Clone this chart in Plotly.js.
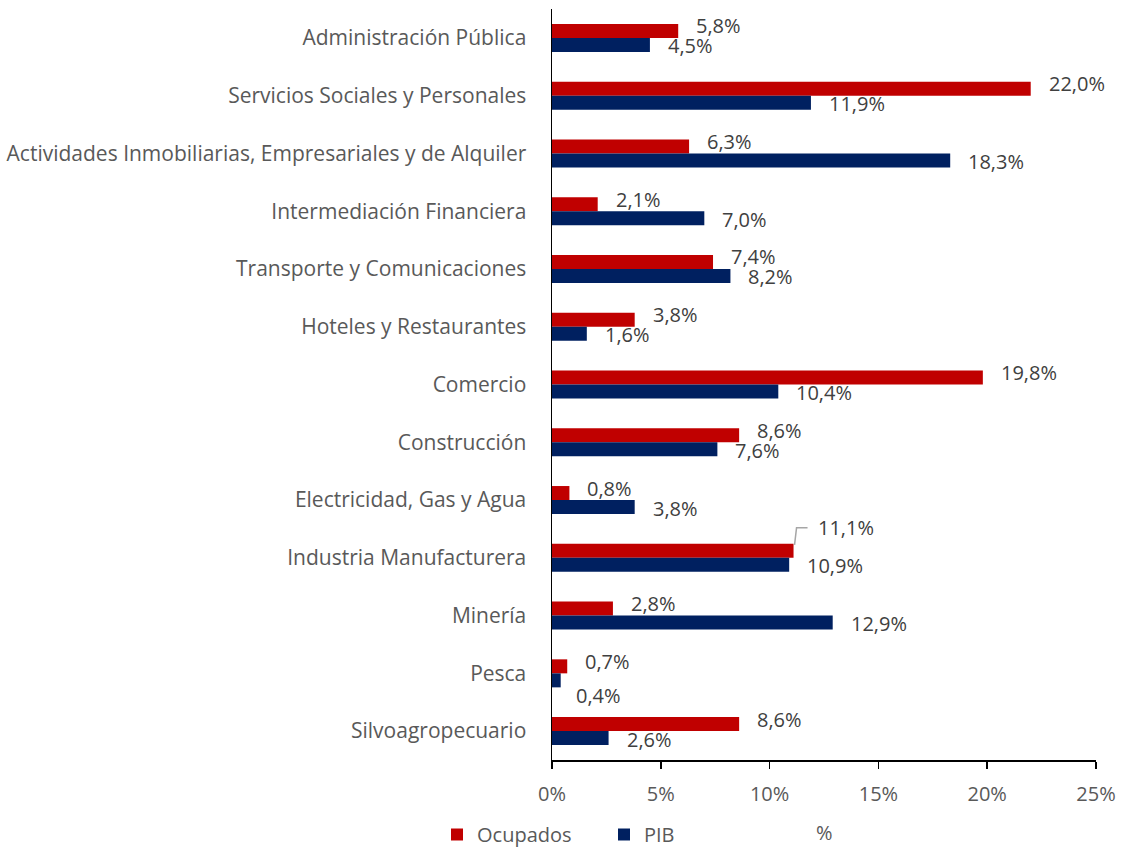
<!DOCTYPE html>
<html>
<head>
<meta charset="utf-8">
<script src="https://cdn.plot.ly/plotly-3.0.1.min.js"></script>
<style>html,body{margin:0;padding:0;background:#fff;}#chart{width:1123px;height:854px;}</style>
</head>
<body>
<div id="chart"></div>
<script>
const categories = [
  "Administración Pública",
  "Servicios Sociales y Personales",
  "Actividades Inmobiliarias, Empresariales y de Alquiler",
  "Intermediación Financiera",
  "Transporte y Comunicaciones",
  "Hoteles y Restaurantes",
  "Comercio",
  "Construcción",
  "Electricidad, Gas y Agua",
  "Industria Manufacturera",
  "Minería",
  "Pesca",
  "Silvoagropecuario"
];
const ocupados = [5.8, 22.0, 6.3, 2.1, 7.4, 3.8, 19.8, 8.6, 0.8, 11.1, 2.8, 0.7, 8.6];
const pib      = [4.5, 11.9, 18.3, 7.0, 8.2, 1.6, 10.4, 7.6, 3.8, 10.9, 12.9, 0.4, 2.6];
const xTickVals = [0, 5, 10, 15, 20, 25];
const xTickText = ["0%", "5%", "10%", "15%", "20%", "25%"];
const leaderCategory = "Industria Manufacturera";
const loweredPibCategory = "Pesca";

const FONT = "'Open Sans', sans-serif";
const GREY = "#595959";
const DARK = "#404040";
const fmt = v => v.toFixed(1).replace(".", ",") + "%";

const traces = [
  {type: "bar", orientation: "h", name: "Ocupados", y: categories, x: ocupados,
   marker: {color: "#C00000"}, hoverinfo: "skip"},
  {type: "bar", orientation: "h", name: "PIB", y: categories, x: pib,
   marker: {color: "#002060"}, hoverinfo: "skip"}
];

const annotations = [];
const shapes = [];
categories.forEach((c, i) => {
  const lead = c === leaderCategory;
  const lowered = c === loweredPibCategory;
  annotations.push({x: ocupados[i], y: c, xref: "x", yref: "y", text: fmt(ocupados[i]),
    showarrow: false, xanchor: "left", yanchor: "middle",
    xshift: lead ? 22 : 16, yshift: lead ? 30 : 12,
    font: {family: FONT, size: 20, color: DARK}});
  annotations.push({x: pib[i], y: c, xref: "x", yref: "y", text: fmt(pib[i]),
    showarrow: false, xanchor: "left", yanchor: "middle",
    xshift: lowered ? 13 : 16, yshift: lowered ? -22 : -8,
    font: {family: FONT, size: 20, color: DARK}});
  if (lead) {
    shapes.push({type: "path", xref: "x", yref: "y", xsizemode: "pixel", ysizemode: "pixel",
      xanchor: ocupados[i], yanchor: i, path: "M 1,13 L 3,30 L 14,30",
      line: {color: "#A6A6A6", width: 1.5}});
  }
});
annotations.push({text: "%", xref: "paper", yref: "paper", x: 0.5, y: 0,
  xanchor: "center", yanchor: "middle", yshift: -72, showarrow: false,
  font: {family: FONT, size: 20, color: GREY}});

const layout = {
  width: 1123, height: 854,
  margin: {l: 552, r: 27, t: 9, b: 94, autoexpand: false},
  paper_bgcolor: "#fff", plot_bgcolor: "#fff",
  font: {family: FONT, size: 20, color: GREY},
  barmode: "group", bargap: 0.515, bargroupgap: 0,
  showlegend: true,
  legend: {orientation: "h", xref: "container", yref: "container",
    x: 437 / 1123, xanchor: "left", y: 0, yanchor: "bottom",
    font: {family: FONT, size: 20, color: GREY}, entrywidth: 122, entrywidthmode: "pixels",
    itemwidth: 30, traceorder: "normal", bgcolor: "rgba(0,0,0,0)"},
  xaxis: {range: [0, 25], tickvals: xTickVals, ticktext: xTickText, automargin: false,
    showgrid: false, zeroline: false, showline: true, linecolor: "#000", linewidth: 1.5,
    ticks: "outside", ticklen: 7, tickcolor: "#000", tickwidth: 1.5, ticklabelstandoff: 8,
    tickfont: {family: FONT, size: 20, color: GREY}, fixedrange: true},
  yaxis: {type: "category", autorange: "reversed", showgrid: false, zeroline: false, automargin: false,
    showline: true, linecolor: "#000", linewidth: 1.5, ticks: "", ticklabelstandoff: 20,
    tickfont: {family: FONT, size: 21, color: GREY}, fixedrange: true},
  annotations: annotations,
  shapes: shapes
};

Plotly.newPlot("chart", traces, layout, {displayModeBar: false, staticPlot: true});
</script>
</body>
</html>
